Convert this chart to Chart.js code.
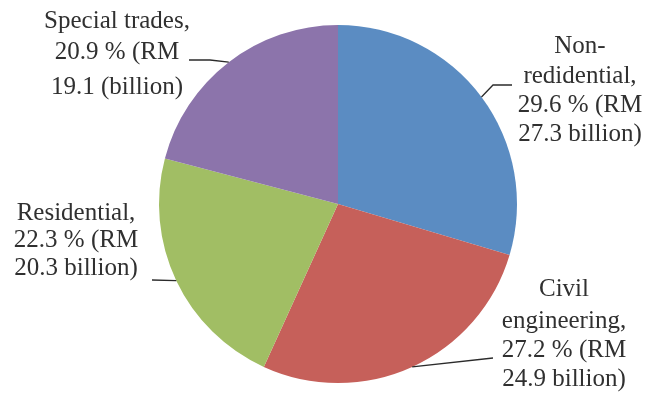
<!DOCTYPE html>
<html>
<head>
<meta charset="utf-8">
<script src="https://cdn.jsdelivr.net/npm/chart.js@4"></script>
<style>
    html, body { margin: 0; padding: 0; background: #fff; }
    #wrap { width: 649px; height: 394px; }
</style>
</head>
<body>
<div id="wrap"><canvas id="myChart" width="649" height="394"></canvas></div>
<script>
// construction output by sector
const sectors = ['Non-redidential', 'Civil engineering', 'Residential', 'Special trades'];
const shares = [29.6, 27.2, 22.3, 20.9];
const values = [27.3, 24.9, 20.3, 19.1];
const labelLines = [
    ['Non-', 'redidential,', '29.6 % (RM', '27.3 billion)'],
    ['Civil', 'engineering,', '27.2 % (RM', '24.9 billion)'],
    ['Residential,', '22.3 % (RM', '20.3 billion)'],
    ['Special trades,', '20.9 % (RM', '19.1 (billion)'],
];
const colors = ['#5b8cc2', '#c6605a', '#a1be64', '#8c74ab'];

// where each text block sits and where its leader line ends
const labelBoxes = [
    { x: 580, ys: [46, 76, 105, 134], path: [[493, 85], [512, 85]] },
    { x: 564, ys: [289, 321, 350, 379], path: [[493, 358]] },
    { x: 76, ys: [213, 240, 268], path: [[152, 280]] },
    { x: 117, ys: [21, 52, 87], path: [[210, 60], [189, 60]] },
];

const calloutPlugin = {
    id: 'callouts',
    afterDatasetsDraw(chart) {
        const ctx = chart.ctx;
        const meta = chart.getDatasetMeta(0);
        ctx.save();
        meta.data.forEach((arc, i) => {
            const mid = (arc.startAngle + arc.endAngle) / 2;
            const sx = arc.x + Math.cos(mid) * arc.outerRadius;
            const sy = arc.y + Math.sin(mid) * arc.outerRadius;
            const box = labelBoxes[i];

            ctx.strokeStyle = '#2b2b2b';
            ctx.lineWidth = 1.3;
            ctx.beginPath();
            ctx.moveTo(sx, sy);
            box.path.forEach(p => ctx.lineTo(p[0], p[1]));
            ctx.stroke();

            ctx.fillStyle = '#303030';
            ctx.font = '25px "Liberation Serif", "Times New Roman", serif';
            ctx.textAlign = 'center';
            ctx.textBaseline = 'middle';
            labelLines[i].forEach((t, j) => ctx.fillText(t, box.x, box.ys[j]));
        });
        ctx.restore();
    }
};

const config = {
    type: 'pie',
    data: {
        labels: sectors,
        datasets: [{
            data: shares,
            backgroundColor: colors,
            borderWidth: 0,
        }],
    },
    options: {
        responsive: false,
        animation: false,
        layout: {
            padding: { top: 25, bottom: 11, left: 159, right: 132 },
        },
        plugins: {
            legend: { display: false },
            tooltip: { enabled: false },
        },
    },
    plugins: [calloutPlugin],
};

const myChart = new Chart(document.getElementById('myChart'), config);
</script>
</body>
</html>
